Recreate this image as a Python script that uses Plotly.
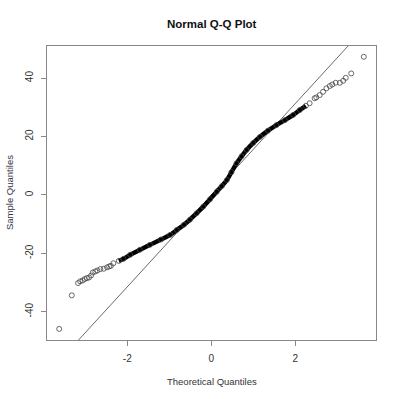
import plotly.graph_objects as go

# ---- data ----
# sparse lower tail (theoretical quantile, sample quantile)
tail_low_x = [-3.62, -3.32, -3.17, -3.12, -3.06, -3.01, -2.96, -2.91, -2.86, -2.82,
              -2.76, -2.71, -2.64, -2.56, -2.48, -2.43]
tail_low_y = [-45.9, -34.4, -30.2, -29.6, -29.3, -28.8, -28.5, -28.3, -27.6, -26.6,
              -26.2, -25.9, -25.4, -25.3, -24.8, -24.5]

# dense middle band
band_x = [-2.39, -2.33, -2.20, -2.09, -1.93, -1.70, -1.46, -1.20, -0.98, -0.82,
          -0.65, -0.51, -0.35, -0.19, -0.03, 0.13, 0.25, 0.37, 0.48, 0.60,
          0.72, 0.84, 1.00, 1.16, 1.35, 1.55, 1.75, 1.95, 2.11, 2.25, 2.34, 2.46]
band_y = [-24.3, -23.4, -22.6, -21.9, -20.5, -18.8, -17.1, -15.3, -13.7, -12.0,
          -10.2, -8.5, -6.3, -4.0, -1.5, 1.1, 3.0, 5.1, 7.8, 10.8,
          13.2, 15.4, 17.8, 19.9, 22.0, 23.9, 25.6, 27.4, 29.1, 30.5, 31.4, 33.1]

# sparse upper tail
tail_high_x = [2.50, 2.58, 2.66, 2.74, 2.82, 2.88, 2.96, 3.06, 3.14, 3.20, 3.33, 3.63]
tail_high_y = [33.4, 34.2, 35.3, 36.5, 37.3, 37.8, 38.4, 38.4, 39.1, 40.1, 41.6, 47.3]

# reference line (qqline)
qqline_intercept = -0.1
qqline_slope = 15.7

x_ticks = [-2, 0, 2]
y_ticks = [-40, -20, 0, 20, 40]
x_range = [-3.91, 3.92]
y_range = [-49.7, 51.0]

# ---- figure ----
W, H = 400, 399
L, R, T, B = 47, 24, 46, 59

fig = go.Figure()

line_x = [x_range[0], x_range[1]]
line_y = [qqline_intercept + qqline_slope * v for v in line_x]
fig.add_trace(go.Scatter(x=line_x, y=line_y, mode="lines",
                         line=dict(color="#444", width=0.8), hoverinfo="skip"))

dense = [(x, y) for x, y in zip(band_x, band_y) if -2.25 <= x <= 2.30]
fig.add_trace(go.Scatter(x=[p[0] for p in dense], y=[p[1] for p in dense],
                         mode="lines", line=dict(color="black", width=4.5, shape="spline"),
                         hoverinfo="skip"))

all_x = tail_low_x + band_x + tail_high_x
all_y = tail_low_y + band_y + tail_high_y
fig.add_trace(go.Scatter(x=all_x, y=all_y, mode="markers",
                         marker=dict(symbol="circle-open", size=5, color="#444",
                                     line=dict(width=0.8, color="#444"))))

font_fam = "Liberation Sans, Arial, sans-serif"
axis_common = dict(showgrid=False, zeroline=False, showline=True, mirror=True,
                   linecolor="#888", linewidth=1, ticks="outside", ticklen=5,
                   tickcolor="#888", tickwidth=1,
                   tickfont=dict(family=font_fam, size=10, color="#333"))

fig.update_layout(
    width=W, height=H,
    margin=dict(l=L, r=R, t=T, b=B),
    paper_bgcolor="white", plot_bgcolor="white",
    showlegend=False,
    xaxis=dict(range=x_range, tickvals=x_ticks, ticktext=[str(v) for v in x_ticks],
               ticklabelstandoff=4, **axis_common),
    yaxis=dict(range=y_range, tickvals=y_ticks, ticktext=[str(v) for v in y_ticks],
               tickangle=-90, ticklabelstandoff=4, **axis_common),
    annotations=[
        dict(text="<b>Normal Q-Q Plot</b>", xref="paper", yref="paper", x=0.5, y=1,
             xanchor="center", yanchor="middle", yshift=22, showarrow=False,
             font=dict(family=font_fam, size=11.5, color="#111")),
        dict(text="Theoretical Quantiles", xref="paper", yref="paper", x=0.5, y=0,
             xanchor="center", yanchor="middle", yshift=-41.5, showarrow=False,
             font=dict(family=font_fam, size=9.5, color="#333")),
        dict(text="Sample Quantiles", xref="paper", yref="paper", x=0, y=0.5,
             xanchor="center", yanchor="middle", xshift=-38, textangle=-90,
             showarrow=False, font=dict(family=font_fam, size=9.5, color="#334")),
    ],
)

fig.write_html("out.html",
               config={"displayModeBar": False, "staticPlot": True},
               post_script="document.body.style.margin='0';document.body.style.overflow='hidden';")
